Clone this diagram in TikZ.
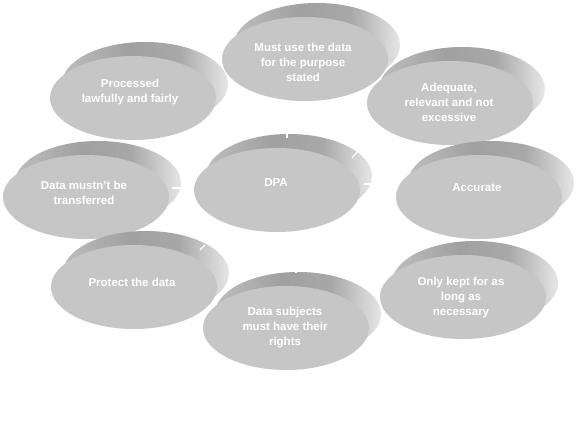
\documentclass[tikz,border=0pt]{standalone}
\usepackage{fontspec}
\setmainfont{Liberation Sans}
\usetikzlibrary{shapes.geometric}
\definecolor{frontgray}{HTML}{C6C6C6}
\definecolor{backleft}{HTML}{BEBEBE}
\definecolor{backdark}{HTML}{A0A0A0}
\definecolor{backmid}{HTML}{A8A8A8}
\definecolor{backlight}{HTML}{E6E6E6}
\pgfdeclarehorizontalshading{backsh}{100bp}{color(0bp)=(backleft); color(25bp)=(backleft); color(45bp)=(backdark); color(60bp)=(backmid); color(75bp)=(backlight); color(100bp)=(backlight)}
\tikzset{
  front/.style={ellipse, fill=frontgray, minimum width=166pt, minimum height=84pt, inner sep=0pt},
  backdisc/.style={ellipse, minimum width=166pt, minimum height=84pt, inner sep=0pt,
     shading=backsh},
  lbl/.style={text=white, font=\bfseries\fontsize{11.5}{15}\selectfont, align=center, inner sep=0pt},
  tick/.style={white, line width=1.2pt}
}
\newcommand{\disc}[6]{%
  \node[backdisc] (#1b) at (#2+12,#3-14) {};
  \node[front] (#1) at (#2,#3) {};
  \node[lbl] (#1t) at (#4,#5) {#6};
}
\begin{document}
\begin{tikzpicture}[x=1pt,y=-1pt]
\useasboundingbox (0,0) rectangle (576,421);
\fill[white] (0,0) rectangle (576,421);
\disc{must}{305}{59}{303}{62}{Must use the data\\for the purpose\\stated}
\disc{proc}{133}{98}{130}{92.5}{Processed\\lawfully and fairly}
\disc{adeq}{450}{103}{449}{102}{Adequate,\\relevant and not\\excessive}
\disc{dpa}{277}{190}{276}{183}{DPA}
\disc{trans}{86}{197}{84}{193}{Data mustn't be\\transferred}
\disc{accu}{479}{197}{477}{188}{Accurate}
\disc{only}{463}{297}{461}{298}{Only kept for as\\long as\\necessary}
\disc{prot}{134}{287}{132}{282}{Protect the data}
\disc{subj}{286}{328}{285}{328}{Data subjects\\must have their\\rights}
% small white marks
\draw[tick] (287,131) -- (287,138);
\draw[tick] (352,158) -- (357,152);
\draw[tick] (364,184) -- (372,184);
\draw[tick] (172,188) -- (180,188);
\draw[tick] (200,250) -- (205,245);
\draw[tick] (296,268) -- (296,273);
\end{tikzpicture}
\end{document}
